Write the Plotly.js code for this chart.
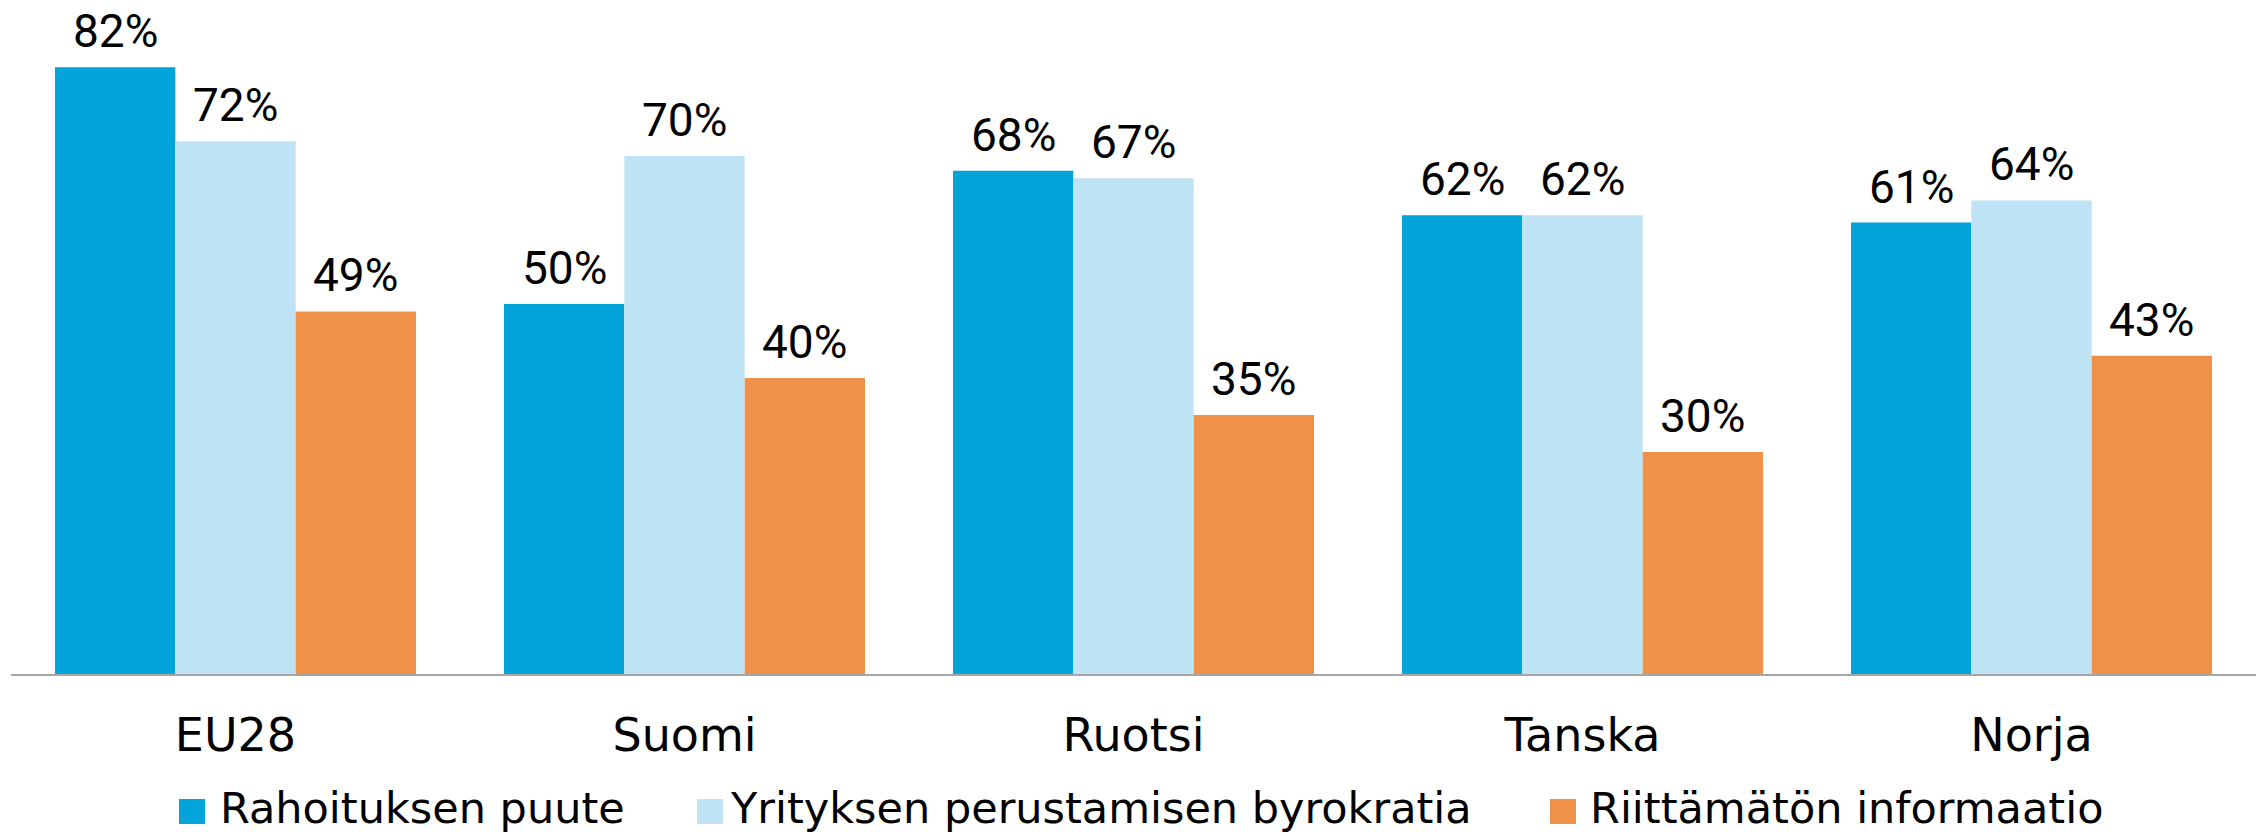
<!DOCTYPE html>
<html>
<head>
<meta charset="utf-8">
<script src="https://cdn.plot.ly/plotly-3.0.1.min.js"></script>
<style>html,body{margin:0;padding:0;background:#fff;}#chart{width:2264px;height:836px;}</style>
</head>
<body>
<div id="chart"></div>
<script>
// ---- data ----
var categories = ["EU28", "Suomi", "Ruotsi", "Tanska", "Norja"];
var seriesNames = ["Rahoituksen puute", "Yrityksen perustamisen byrokratia", "Riittämätön informaatio"];
var rahoitus = [82, 50, 68, 62, 61];
var byrokratia = [72, 70, 67, 62, 64];
var informaatio = [49, 40, 35, 30, 43];
var colors = ["#02A4DA", "#BEE3F5", "#F0914A"];

var series = [rahoitus, byrokratia, informaatio];

// ---- geometry ----
var W = 2264, H = 836;
var M = {l: 11, r: 8, t: 0, b: 162};
var plotW = W - M.l - M.r, plotH = H - M.t - M.b;
var bargap = 0.196;
function px(x) { return (x - M.l) / plotW; }
function py(y) { return (H - M.b - y) / plotH; }

var traces = series.map(function (vals, j) {
  return {
    type: "bar",
    name: seriesNames[j],
    x: categories,
    y: vals,
    marker: {color: colors[j], line: {width: 0}},
    hoverinfo: "skip"
  };
});

var annotations = [];
var barW = (1 - bargap) / series.length;
series.forEach(function (vals, j) {
  vals.forEach(function (v, i) {
    annotations.push({
      x: i + (j - (series.length - 1) / 2) * barW,
      y: v,
      xref: "x", yref: "y",
      text: v + "%",
      showarrow: false,
      xanchor: "center", yanchor: "bottom",
      yshift: 7,
      font: {family: "Roboto, Liberation Sans, sans-serif", size: 46, color: "#000"}
    });
  });
});

// custom legend
var legendMarkerX = [179, 697, 1550];
var legendTextX = [218, 728, 1588];
var shapes = [];
seriesNames.forEach(function (n, j) {
  shapes.push({
    type: "rect", xref: "paper", yref: "paper",
    x0: px(legendMarkerX[j]), x1: px(legendMarkerX[j] + 26),
    y0: py(824), y1: py(799),
    fillcolor: colors[j], line: {width: 0}
  });
  annotations.push({
    xref: "paper", yref: "paper",
    x: px(legendTextX[j]), y: py(808),
    xanchor: "left", yanchor: "middle",
    text: n, showarrow: false,
    font: {family: "DejaVu Sans", size: 43, color: "#000"}
  });
});

var layout = {
  width: W, height: H,
  margin: M,
  paper_bgcolor: "#fff", plot_bgcolor: "#fff",
  barmode: "group",
  bargap: bargap, bargroupgap: 0,
  showlegend: false,
  xaxis: {
    type: "category",
    showline: true, linecolor: "#a6a6a6", linewidth: 2,
    ticks: "", showgrid: false, zeroline: false,
    tickfont: {family: "DejaVu Sans", size: 46, color: "#000"},
    ticklabelstandoff: 20
  },
  yaxis: {
    range: [0, plotH / 7.4],
    visible: false, showgrid: false, zeroline: false, fixedrange: true
  },
  annotations: annotations,
  shapes: shapes
};

Plotly.newPlot("chart", traces, layout, {displayModeBar: false, staticPlot: true});
</script>
</body>
</html>
